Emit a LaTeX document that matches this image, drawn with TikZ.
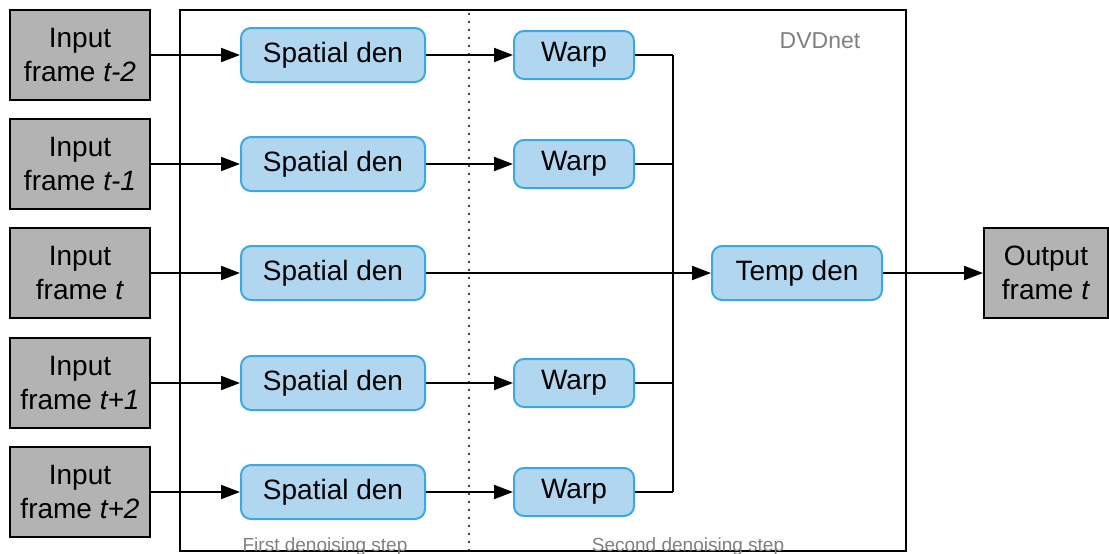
\documentclass[tikz,border=0pt]{standalone}
\usepackage{fontspec}
\setmainfont{Liberation Sans}
\usetikzlibrary{arrows.meta}
\definecolor{boxfill}{RGB}{177,214,240}
\definecolor{boxline}{RGB}{60,168,224}
\definecolor{inputfill}{RGB}{179,179,179}
\definecolor{labelgray}{RGB}{128,128,128}
\tikzset{
  x=1pt, y=-1pt,
  iobox/.style={draw=black, line width=2pt, fill=inputfill, minimum width=140pt, minimum height=90pt, inner sep=0pt, align=center, font=\fontsize{28}{34}\selectfont},
  procbox/.style={draw=boxline, line width=2pt, fill=boxfill, rounded corners=10pt, inner sep=0pt, font=\fontsize{28}{34}\selectfont},
  spat/.style={procbox, minimum width=184pt, minimum height=54pt},
  warpbox/.style={procbox, minimum width=120pt, minimum height=48pt},
  conn/.style={line width=2pt, draw=black},
  arr/.style={conn, -{Triangle[length=19pt,width=14pt]}},
  graylabel/.style={text=labelgray, inner sep=0pt}
}
\begin{document}
\begin{tikzpicture}
\useasboundingbox (0,0) rectangle (1109,554);
% DVDnet frame
\node[draw=black, line width=2pt, minimum width=726pt, minimum height=541pt, inner sep=0pt] (frame) at (543,280.5) {};
\draw[line width=2.2pt, line cap=round, dash pattern=on 0pt off 8pt] (469,14) -- (469,551);
\node[graylabel, font=\fontsize{23}{28}\selectfont] (dvd) at (820,41) {DVDnet};
\node[graylabel, font=\fontsize{19}{23}\selectfont, anchor=base] (first) at (325,551) {First denoising step};
\node[graylabel, font=\fontsize{19}{23}\selectfont, anchor=base] (second) at (688,551) {Second denoising step};
% inputs
\node[iobox] (in1) at (80,55) {Input\\frame \textit{t-2}};
\node[iobox] (in2) at (80,164) {Input\\frame \textit{t-1}};
\node[iobox] (in3) at (80,273) {Input\\frame \textit{t}};
\node[iobox] (in4) at (80,383) {Input\\frame \textit{t+1}};
\node[iobox] (in5) at (80,492) {Input\\frame \textit{t+2}};
% spatial
\node[spat] (s1) at (333,55) {Spatial den};
\node[spat] (s2) at (333,164) {Spatial den};
\node[spat] (s3) at (333,273) {Spatial den};
\node[spat] (s4) at (333,383) {Spatial den};
\node[spat] (s5) at (333,492) {Spatial den};
% warp
\node[warpbox] (w1) at (574,55) {Warp};
\node[warpbox] (w2) at (574,164) {Warp};
\node[warpbox] (w4) at (574,383) {Warp};
\node[warpbox] (w5) at (574,492) {Warp};
% temporal and output
\node[procbox, minimum width=170pt, minimum height=54pt] (temp) at (797,273) {Temp den};
\node[iobox, minimum width=124pt] (out) at (1046,273) {Output\\frame \textit{t}};
% bus coordinates
\coordinate (b1) at (673,55);
\coordinate (b2) at (673,164);
\coordinate (b4) at (673,383);
\coordinate (b5) at (673,492);
% connectors
\foreach \i in {1,...,5} { \draw[arr] (in\i) -- (s\i); }
\foreach \i in {1,2,4,5} { \draw[arr] (s\i) -- (w\i); \draw[conn] (w\i.east) -- (b\i); }
\draw[conn] (b1) -- (b5);
\draw[arr] (s3) -- (temp);
\draw[arr] (temp) -- (out);
\end{tikzpicture}
\end{document}
